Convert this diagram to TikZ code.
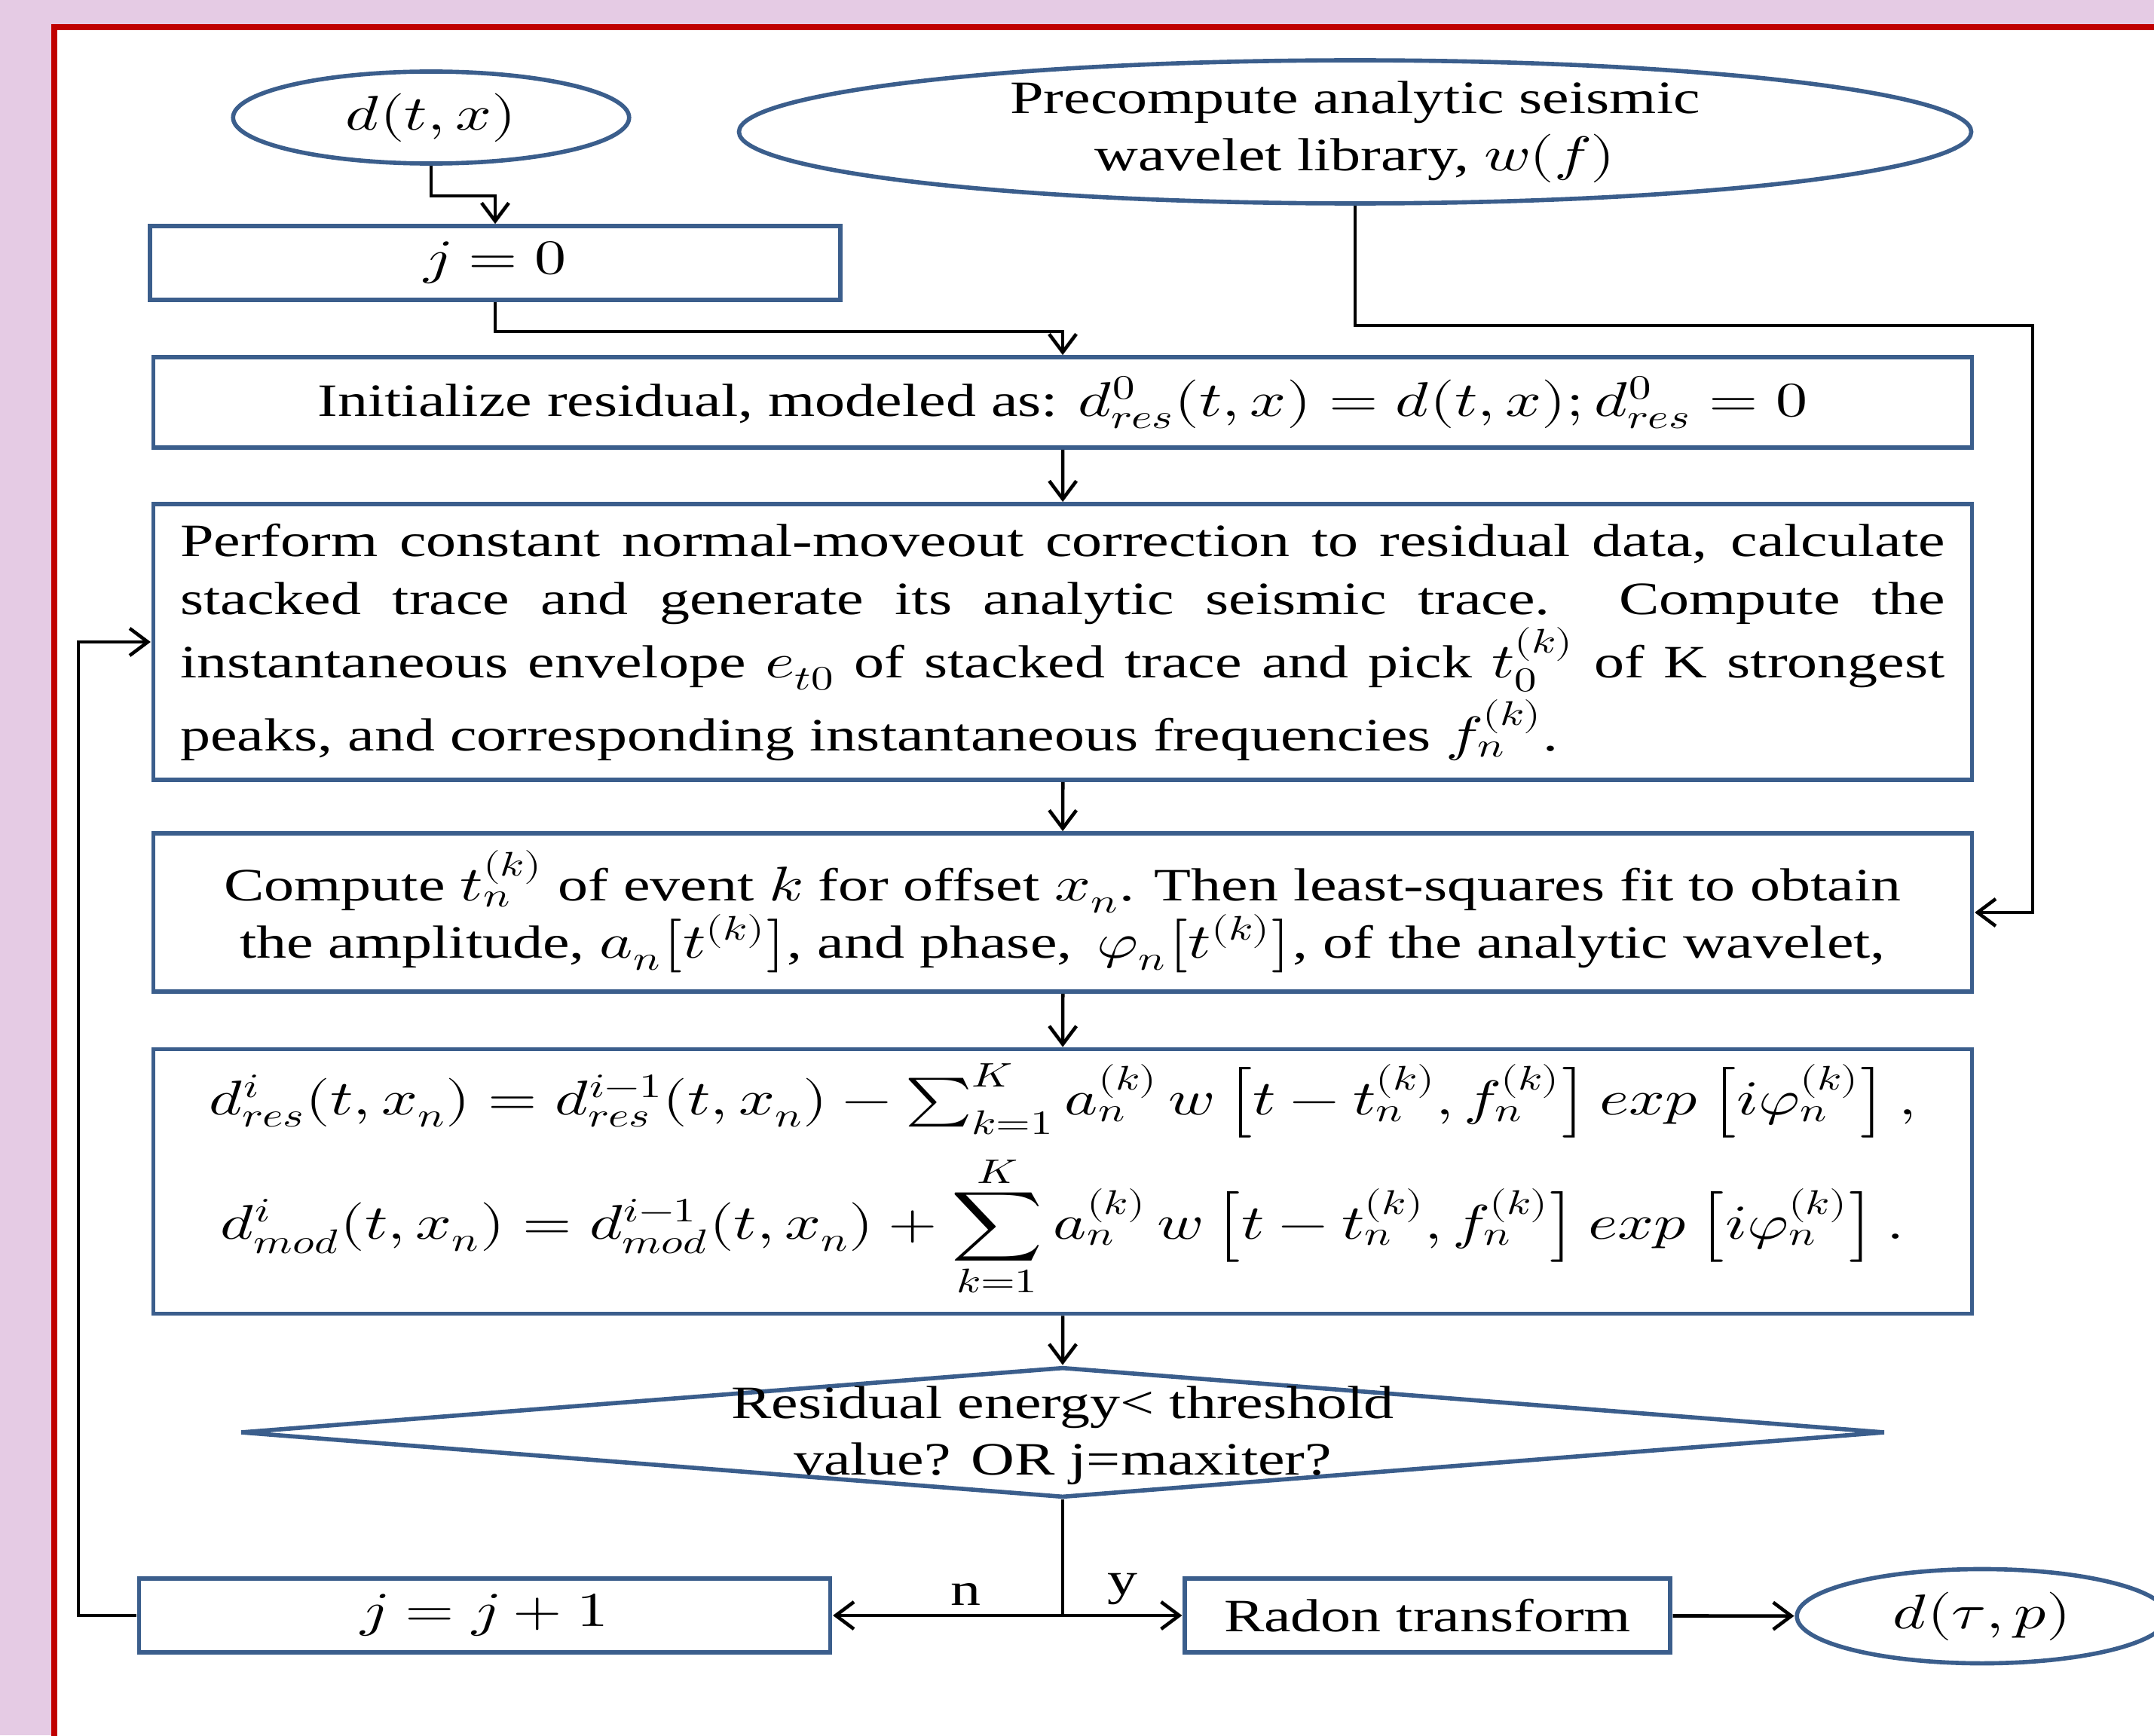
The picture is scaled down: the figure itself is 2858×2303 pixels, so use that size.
\documentclass[tikz,border=0pt]{standalone}
\usepackage{fontspec}
\usepackage{unicode-math}
\setmainfont{Liberation Serif}
\setmathfont{latinmodern-math.otf}[Scale=1.05]
\usetikzlibrary{shapes.geometric,arrows.meta}
\definecolor{slideback}{HTML}{E5CBE4}
\definecolor{framered}{HTML}{C00000}
\definecolor{boxblue}{HTML}{3B5E8C}
\begin{document}
\begin{tikzpicture}[x=0.01cm,y=-0.01cm,>={Straight Barb[length=2.4mm,width=3.6mm]},
  every node/.style={font=\fontsize{17.5}{21.5}\selectfont,xscale=1.3,transform shape},
  box/.style={draw=boxblue,line width=1.6pt,fill=white,inner sep=0pt,minimum width=18.55cm},
  oval/.style={ellipse,draw=boxblue,line width=1.6pt,fill=white,inner sep=0pt},
  decision/.style={diamond,draw=boxblue,line width=1.6pt,inner sep=0pt,
    minimum width=16.78cm,minimum height=1.73cm},
  flow/.style={line width=1.3pt}]
  \useasboundingbox (0,0) rectangle (2858,2303);
  % slide background and frame
  \fill[slideback] (0,0) rectangle (2858,2303);
  \begin{scope}
    \clip (0,0) rectangle (2858,2303);
    \draw[framered,line width=2pt,fill=white] (72,36) rectangle (2900,2350);
  \end{scope}
  % inputs
  \node[oval,minimum width=4.04cm,minimum height=1.22cm] (dtx) at (572,156) {$d(t,x)$};
  \node[oval,minimum width=12.57cm,minimum height=1.62cm,align=center] (lib) at (1798,175)
    {Precompute analytic seismic\\wavelet library, $w(f)$};
  \node[box,minimum width=7.04cm,minimum height=0.98cm] (j0) at (657,349) {$j=0$};
  % main chain
  \node[box,minimum height=1.2cm] (init) at (1410,534)
    {Initialize residual, modeled as: $d^0_{res}(t,x)=d(t,x); d^0_{res}=0$};
  \node[box,minimum height=3.66cm,text width=18cm,align=justify,
    font=\fontsize{17.5}{22}\selectfont] (perf) at (1410,852)
    {Perform constant normal-moveout correction to residual data, calculate\linebreak
     stacked trace and generate its analytic seismic trace. Compute the\linebreak
     instantaneous envelope $e_{t0}$ of stacked trace and pick $t_0^{(k)}$ of K strongest\linebreak
     \rule{0pt}{21pt}peaks, and corresponding instantaneous frequencies $f_n^{(k)}$.};
  \node[box,minimum height=2.1cm,align=center] (comp) at (1410,1211)
    {Compute $t_n^{(k)}$ of event $k$ for offset $x_n$. Then least-squares fit to obtain\\
     the amplitude, $a_n\big[t^{(k)}\big]$, and phase,\, $\varphi_n\big[t^{(k)}\big]$, of the analytic wavelet,};
  \node[box,minimum height=3.51cm,align=center] (form) at (1410,1568)
    {$d^{i}_{res}(t,x_n)=d^{i-1}_{res}(t,x_n)-\sum_{k=1}^{K}a_n^{(k)}\,w\left[t-t_n^{(k)},f_n^{(k)}\right]exp\left[i\varphi_n^{(k)}\right],$\\[5pt]
     $\displaystyle d^{i}_{mod}(t,x_n)=d^{i-1}_{mod}(t,x_n)+\sum_{k=1}^{K}a_n^{(k)}\,w\left[t-t_n^{(k)},f_n^{(k)}\right]exp\left[i\varphi_n^{(k)}\right].$};
  \node[decision] (dec) at (1410,1901) {};
  \node[align=center] (dectxt) at (1410,1905) {Residual energy< threshold\\value? OR j=maxiter?};
  % outputs
  \node[box,minimum width=7.05cm,minimum height=0.98cm] (jinc) at (643,2144) {$j=j+1$};
  \node[box,minimum width=4.95cm,minimum height=0.98cm] (radon) at (1894,2144) {Radon transform};
  \node[oval,minimum width=3.78cm,minimum height=1.25cm] (dtp) at (2630,2145) {$d(\tau,p)$};
  % connectors
  \draw[flow,->] (dtx.south) -- ++(0,40) -| (j0.north);
  \draw[flow,->] (j0.south) -- ++(0,39) -| (init.north);
  \draw[flow,->] (init) -- (perf);
  \draw[flow,->] (perf) -- (comp);
  \draw[flow,->] (comp) -- (form);
  \draw[flow,->] (form) -- (dec);
  \coordinate (split) at (dec.south |- jinc.east);
  \draw[flow] (dec.south) -- (split);
  \draw[flow,->] (split) -- node[above,pos=0.42] (nlab) {n} (jinc.east);
  \draw[flow,->] (split) -- node[above] (ylab) {y} (radon.west);
  \draw[flow,->] (radon) -- (dtp);
  \draw[flow,->] (jinc.west) -- ++(-77,0) |- (perf.west);
  \coordinate (libturn) at (2697,432);
  \draw[flow,->] (lib.south) |- (libturn) |- (comp.east);
\end{tikzpicture}
\end{document}
